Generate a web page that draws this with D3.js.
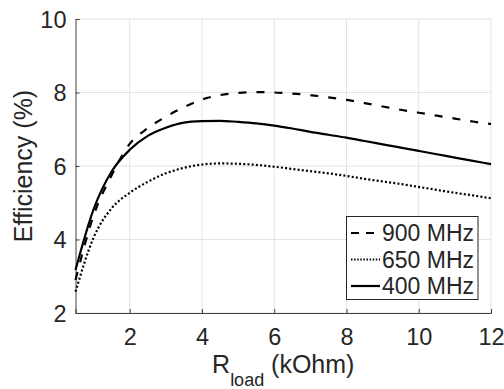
<!DOCTYPE html>
<html><head><meta charset="utf-8">
<script src="https://cdn.jsdelivr.net/npm/d3@7"></script>
<style>body{margin:0;background:#fff}text{font-family:"Liberation Sans",Arial,sans-serif;fill:#262626}</style>
</head><body><svg id="c" width="504" height="389"></svg>
<script>
const rload = [0.5,1,1.5,2,2.5,3,3.5,4,4.5,5,5.5,6,6.5,7,7.5,8,8.5,9,9.5,10,10.5,11,11.5,12];
const eff900 = [2.9,4.65,5.75,6.6,7.03,7.34,7.6,7.81,7.93,7.99,8.01,8.0,7.97,7.93,7.87,7.8,7.71,7.62,7.53,7.45,7.37,7.29,7.21,7.14];
const eff650 = [2.58,4.05,4.85,5.27,5.57,5.8,5.95,6.04,6.07,6.06,6.03,5.98,5.92,5.86,5.8,5.73,5.65,5.58,5.51,5.43,5.35,5.27,5.2,5.12];
const eff400 = [3.17,4.82,5.85,6.44,6.82,7.04,7.18,7.22,7.23,7.2,7.16,7.1,7.02,6.93,6.85,6.77,6.68,6.59,6.5,6.41,6.32,6.23,6.14,6.05];
const seriesNames = ["900 MHz","650 MHz","400 MHz"];
const xTicks = [2,4,6,8,10,12];
const yTicks = [2,4,6,8,10];

const svg = d3.select("#c");
const L=75.5,R=491,T=19,B=313;
const x = d3.scaleLinear().domain([0.5,12]).range([L,R]);
const y = d3.scaleLinear().domain([2,10]).range([B,T]);
const axisCol="#404040";

// grid
svg.append("g").selectAll("line").data(xTicks).join("line")
  .attr("x1",d=>x(d)).attr("x2",d=>x(d)).attr("y1",T).attr("y2",B)
  .attr("stroke","#e3e3e3").attr("stroke-width",1);
svg.append("g").selectAll("line").data(yTicks).join("line")
  .attr("y1",d=>y(d)).attr("y2",d=>y(d)).attr("x1",L).attr("x2",R)
  .attr("stroke","#e3e3e3").attr("stroke-width",1);

// axes
const xa = svg.append("g").attr("transform",`translate(0,${B})`)
  .call(d3.axisBottom(x).tickValues(xTicks).tickSize(-4).tickPadding(32).tickFormat(d3.format("d")));
const ya = svg.append("g").attr("transform",`translate(${L},0)`)
  .call(d3.axisLeft(y).tickValues(yTicks).tickSize(-4).tickPadding(9).tickFormat(d3.format("d")));
[xa,ya].forEach(a=>{
  a.select(".domain").attr("stroke",axisCol).attr("stroke-width",1);
  a.selectAll(".tick line").attr("stroke",axisCol);
  a.selectAll("text").attr("font-size",23.5).attr("fill","#262626").style("font-family","Liberation Sans, Arial, sans-serif");
});
xa.selectAll("text").attr("dy",null).attr("y",31.5);
ya.selectAll("text").attr("dy","0.36em");

// lines
const styles = [
  {data:eff900, dash:"8,10"},
  {data:eff650, dash:"2,2.2"},
  {data:eff400, dash:null}
];
const line = d3.line().x((d,i)=>x(rload[i])).y(d=>y(d)).curve(d3.curveMonotoneX);
styles.forEach(s=>{
  svg.append("path").datum(s.data).attr("d",line).attr("fill","none")
    .attr("stroke","#000").attr("stroke-width",2.2)
    .attr("stroke-dasharray",s.dash);
});

// legend
const lg = svg.append("g");
lg.append("rect").attr("x",346.5).attr("y",216.5).attr("width",131.5).attr("height",83)
  .attr("fill","#fff").attr("stroke","#262626").attr("stroke-width",1);
const rows=[233,259.5,286];
seriesNames.forEach((n,i)=>{
  lg.append("line").attr("x1",351).attr("x2",380).attr("y1",rows[i]).attr("y2",rows[i])
    .attr("stroke","#000").attr("stroke-width",2.2).attr("stroke-dasharray",styles[i].dash? (i==0?"8,7":"1.5,1.6"):null);
  lg.append("text").attr("x",382).attr("y",rows[i]).attr("dy","0.36em").attr("font-size",23).text(n);
});

// axis labels
svg.append("text").attr("transform",`translate(32,${(T+B)/2}) rotate(-90)`)
  .attr("text-anchor","middle").attr("font-size",25).text("Efficiency (%)");
const xl = svg.append("text").attr("x",(L+R)/2).attr("y",372.5).attr("text-anchor","middle").attr("font-size",25);
xl.append("tspan").text("R");
xl.append("tspan").attr("font-size",18).attr("dy",13).text("load");
xl.append("tspan").attr("dy",-13).text(" (kOhm)");
</script></body></html>
